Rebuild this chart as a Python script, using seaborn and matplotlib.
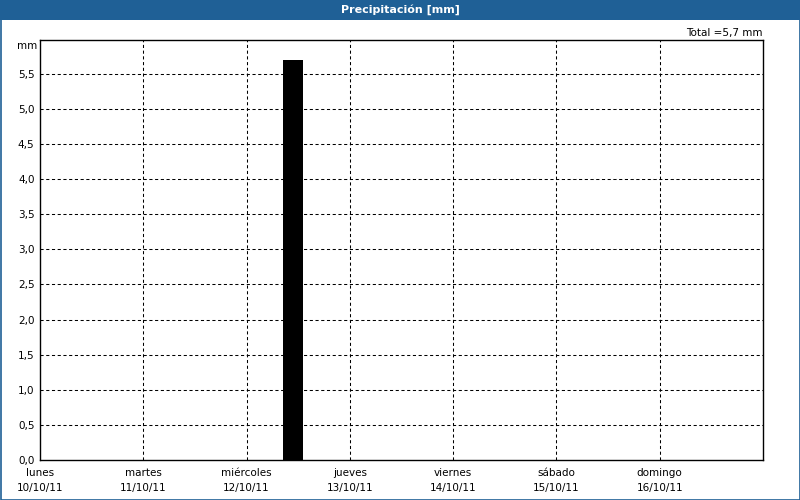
import matplotlib
matplotlib.use("Agg")
import matplotlib.pyplot as plt
import seaborn as sns
import pandas as pd
import numpy as np
from matplotlib.patches import Rectangle

days = ["lunes", "martes", "miércoles", "jueves", "viernes", "sábado", "domingo"]
dates = ["10/10/11", "11/10/11", "12/10/11", "13/10/11", "14/10/11", "15/10/11", "16/10/11"]
precip = [0.0, 0.0, 5.7, 0.0, 0.0, 0.0, 0.0]
yticks = [0.0, 0.5, 1.0, 1.5, 2.0, 2.5, 3.0, 3.5, 4.0, 4.5, 5.0, 5.5]
total = 5.7

sns.set_theme(style="white")
plt.rcParams['font.family'] = ['DejaVu Sans']
plt.rcParams['text.color'] = 'black'

df = pd.DataFrame({"pos": np.arange(len(days)) + 0.45, "mm": precip})

fig = plt.figure(figsize=(8, 5), dpi=100)
fig.patch.set_facecolor("white")
ax = fig.add_axes([40/800, 40/500, 723/800, 420/500])

sns.barplot(data=df, x="pos", y="mm", native_scale=True, width=0.19,
            color="black", saturation=1, linewidth=0, ax=ax, errorbar=None)

ax.set_xlim(0, 7)
ax.set_ylim(0, 5.98)
ax.set_yticks(yticks)
ax.set_yticklabels([f"{v:.1f}".replace(".", ",") for v in yticks], fontsize=7.5)
ax.set_xticks(range(7))
ax.set_xticklabels([f"{d}\n{t}" for d, t in zip(days, dates)], fontsize=7.5, linespacing=1.6)
ax.set_xlabel("")
ax.set_ylabel("")
for v in yticks[1:]:
    ax.axhline(v, color="black", lw=0.75, ls=(0, (3, 2.5)), zorder=0)
for k in range(1, 7):
    ax.axvline(k, color="black", lw=0.75, ls=(0, (3, 2.5)), zorder=0)
for s in ax.spines.values():
    s.set_color("black")
    s.set_linewidth(1.0)
ax.tick_params(axis="y", length=0, pad=4, labelcolor="black")
ax.tick_params(axis="x", length=3, width=0.75, color="black", pad=3, labelcolor="black")

fig.text(37/800, 1 - 46/500, "mm", fontsize=7.5, ha="right", va="center", color="black")
fig.text(763/800, 1 - 33/500, f"Total ={total:.1f} mm".replace(".", ","), fontsize=7.5,
         ha="right", va="center", color="black")

# title bar and frame
fig.patches.append(Rectangle((0, 1 - 20/500), 1, 20/500, transform=fig.transFigure,
                             facecolor="#1f6096", edgecolor="none", zorder=0))
fig.patches.append(Rectangle((0.5/800, 0.5/500), 799/800, 499/500, transform=fig.transFigure,
                             facecolor="none", edgecolor="#1f6096", lw=1.2, zorder=5))
fig.text(0.5, 1 - 10/500, "Precipitación [mm]", color="white", fontsize=8, fontweight="bold",
         ha="center", va="center")

fig.savefig("out.png", dpi=100)
